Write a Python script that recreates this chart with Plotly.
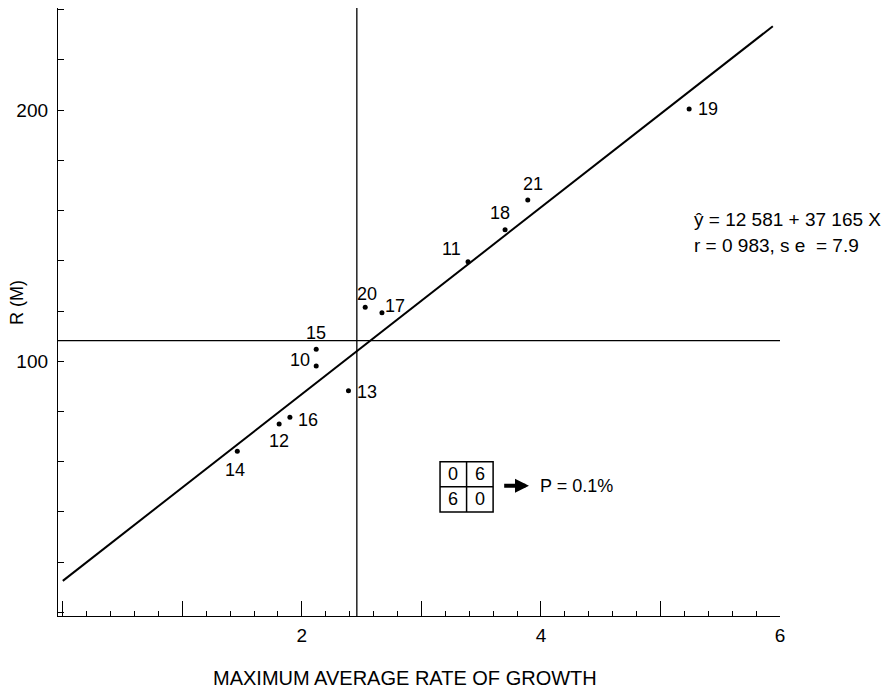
import plotly.graph_objects as go

# ---- data ----
labels = ["10", "11", "12", "13", "14", "15", "16", "17", "18", "19", "20", "21"]
rate = [2.12, 3.39, 1.81, 2.39, 1.46, 2.12, 1.90, 2.67, 3.70, 5.24, 2.53, 3.89]
r_m = [98.1, 139.6, 75.0, 88.3, 64.2, 104.8, 77.7, 119.3, 152.3, 200.4, 121.5, 164.2]

intercept = 12.581
slope = 37.165
fit_x = [0.0, 5.94]

mean_x = 2.46
mean_y = 108.2

x_tickvals = [0, 1, 2, 3, 4, 5, 6]
x_ticktext = ["", "", "2", "", "4", "", "6"]
y_tickvals = [0, 20, 40, 60, 80, 100, 120, 140, 160, 180, 200, 220, 240]
y_ticktext = ["", "", "", "", "", "100", "", "", "", "", "200", "", ""]

table = [["0", "6"], ["6", "0"]]
eq_lines = ["ŷ = 12 581 + 37 165 X", "r = 0 983, s e  = 7.9"]
p_text = "P = 0.1%"

x_title = "MAXIMUM AVERAGE RATE OF GROWTH"
y_title = "R (M)"

# ---- style ----
FONT = "Liberation Sans, Arial, Helvetica, sans-serif"
label_offsets = {
    "10": (-16, 6), "11": (-17, 13), "12": (0, -17), "13": (19, -1),
    "14": (-2, -19), "15": (0, 16), "16": (18, -3), "17": (13, 7),
    "18": (-5, 17), "19": (19, 0), "20": (2, 13), "21": (5, 16),
}

fig = go.Figure()

fit_y = [intercept + slope * v for v in fit_x]
fig.add_trace(go.Scatter(x=fit_x, y=fit_y, mode="lines",
                         line=dict(color="black", width=2), hoverinfo="skip"))
fig.add_trace(go.Scatter(x=rate, y=r_m, mode="markers",
                         marker=dict(color="black", size=5), text=labels))

annotations = []
for lab, xv, yv in zip(labels, rate, r_m):
    dx, dy = label_offsets[lab]
    annotations.append(dict(x=xv, y=yv, xref="x", yref="y", text=lab, showarrow=False,
                            xshift=dx, yshift=dy, font=dict(size=18, color="black", family=FONT)))

# equation
annotations.append(dict(x=5.26, y=156.5, xref="x", yref="y", text=eq_lines[0], showarrow=False,
                        xanchor="left", yanchor="middle", font=dict(size=19, color="black", family=FONT)))
annotations.append(dict(x=5.26, y=146.0, xref="x", yref="y", text=eq_lines[1], showarrow=False,
                        xanchor="left", yanchor="middle", font=dict(size=19, color="black", family=FONT)))

# contingency table
tx0, tx1, ty0, ty1 = 3.156, 3.60, 40.0, 60.0
txm, tym = (tx0 + tx1) / 2, (ty0 + ty1) / 2
shapes = [
    dict(type="rect", xref="x", yref="y", x0=tx0, x1=tx1, y0=ty0, y1=ty1,
         line=dict(color="black", width=1.5)),
    dict(type="line", xref="x", yref="y", x0=txm, x1=txm, y0=ty0, y1=ty1,
         line=dict(color="black", width=1.5)),
    dict(type="line", xref="x", yref="y", x0=tx0, x1=tx1, y0=tym, y1=tym,
         line=dict(color="black", width=1.5)),
    # mean lines
    dict(type="line", xref="x", yref="paper", x0=mean_x, x1=mean_x, y0=0, y1=1,
         line=dict(color="black", width=1.3)),
    dict(type="line", xref="paper", yref="y", x0=0, x1=1, y0=mean_y, y1=mean_y,
         line=dict(color="black", width=1.3)),
]
cx = [(tx0 + txm) / 2, (txm + tx1) / 2]
cy = [(tym + ty1) / 2, (ty0 + tym) / 2]
for i in range(2):
    for j in range(2):
        annotations.append(dict(x=cx[j], y=cy[i], xref="x", yref="y", text=table[i][j],
                                showarrow=False, font=dict(size=18, color="black", family=FONT)))

# arrow
annotations.append(dict(x=3.90, y=50.4, ax=3.68, ay=50.4, xref="x", yref="y", axref="x", ayref="y",
                        text="", showarrow=True, arrowhead=2, arrowsize=0.7, arrowwidth=4,
                        arrowcolor="black"))
annotations.append(dict(x=3.976, y=50.4, xref="x", yref="y", text=p_text, showarrow=False,
                        xanchor="left", yanchor="middle", font=dict(size=18, color="black", family=FONT)))

# axis titles
annotations.append(dict(x=0.5, y=0, xref="paper", yref="paper", text=x_title, showarrow=False,
                        yshift=-62, xshift=-14, xanchor="center", yanchor="middle",
                        font=dict(size=20, color="black", family=FONT)))
annotations.append(dict(x=0, y=(616 - 303) / 608, xref="paper", yref="paper", text=y_title,
                        showarrow=False, xshift=-41, textangle=-90, xanchor="center", yanchor="middle",
                        font=dict(size=18, color="black", family=FONT)))

# page has an 8px body margin, so the figure is offset by (8, 8)
fig.update_layout(
    width=882, height=682,
    margin=dict(l=50, r=110, t=0, b=74),
    paper_bgcolor="white", plot_bgcolor="white",
    showlegend=False,
    font=dict(family=FONT, size=18, color="black"),
    shapes=shapes, annotations=annotations,
    xaxis=dict(range=[-0.04, 6.0], showgrid=False, zeroline=False,
               showline=True, linecolor="black", linewidth=1.3, mirror=False,
               ticks="inside", ticklen=15, tickwidth=1.3, tickcolor="black",
               tickvals=x_tickvals, ticktext=x_ticktext, ticklabelstandoff=2,
               tickfont=dict(size=19, family=FONT, color="black"),
               minor=dict(ticks="inside", ticklen=5, tickwidth=1, tickcolor="black",
                          dtick=0.2, tick0=0, showgrid=False)),
    yaxis=dict(range=[-1.4, 240.6], showgrid=False, zeroline=False,
               showline=True, linecolor="black", linewidth=1.3, mirror=False,
               ticks="inside", ticklen=6, tickwidth=1.3, tickcolor="black",
               tickvals=y_tickvals, ticktext=y_ticktext, ticklabelstandoff=5,
               tickfont=dict(size=19, family=FONT, color="black")),
)

fig.write_html("out.html")
